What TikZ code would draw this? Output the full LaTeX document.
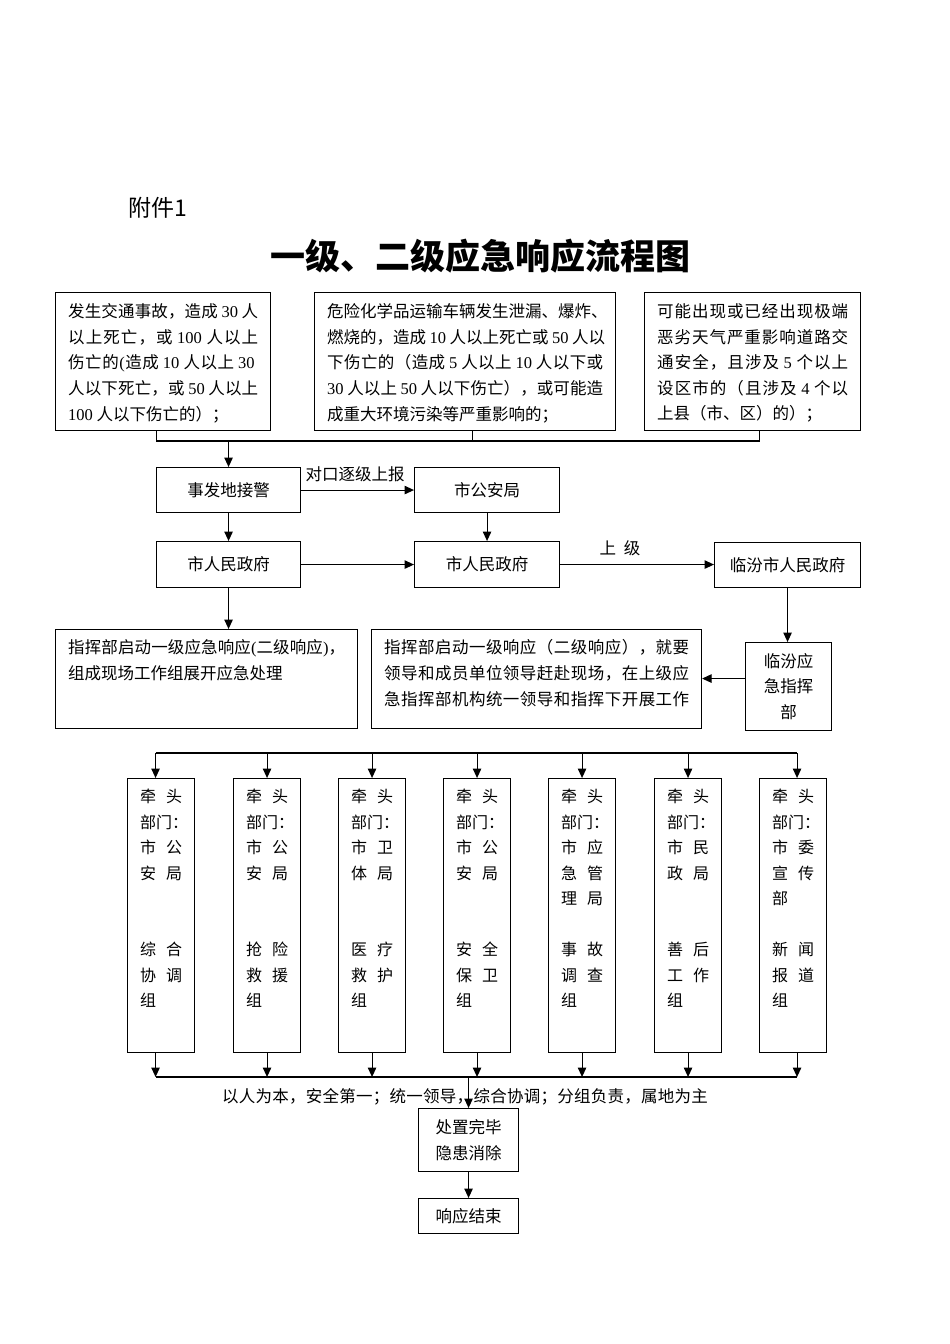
\documentclass[tikz,border=0pt]{standalone}
\usepackage{fontspec}
\setmainfont{Noto Sans CJK SC}
\newfontfamily\lat{Liberation Serif}
\usetikzlibrary{arrows.meta}
% spread a line of units evenly to a given width
\def\spreadfirst#1{{#1}\spreadrest}
\def\spreadrest#1{\ifx\relax#1\else\hfill{#1}\expandafter\spreadrest\fi}
\newcommand{\jl}[2]{\hbox to #1{\spreadfirst#2\relax}}
\newcommand{\nm}[1]{\hspace{3.5pt}{\lat #1}\hspace{3.5pt}}
\newcommand{\cg}{\hspace{10pt}}
\newcommand{\ctext}[6]{牵\cg 头\\部门：\\#1\\#2\\#3\\\mbox{}\\#4\\#5\\#6}
\begin{document}
\begin{tikzpicture}[x=1pt,y=-1pt,
  box/.style={draw, line width=1.1pt, inner sep=0pt, anchor=north west},
  cbox/.style={draw, line width=1.1pt, inner sep=0pt, anchor=north west, align=center, font=\fontsize{16.5}{25.6}\selectfont},
  txt/.style={inner sep=0pt, anchor=north west, align=left, font=\fontsize{16.5}{25.6}\selectfont},
  ctx/.style={inner sep=0pt, anchor=north west, align=left, font=\fontsize{16}{25.5}\selectfont},
  lbl/.style={inner sep=0pt, font=\fontsize{16.5}{20}\selectfont},
  arr/.style={line width=1.1pt, -{Triangle[length=9.5pt,width=8.5pt]}},
  ln/.style={line width=1.1pt}]
\fill[white] (0,0) rectangle (950,1344);
\useasboundingbox (0,0) rectangle (950,1344);

% header
\node[anchor=west, inner sep=0pt, font=\fontsize{23}{23}\selectfont] (fj) at (128,208) {附件1};
\node[inner sep=0pt, font=\fontsize{35}{35}\selectfont\bfseries] (title) at (480,256) {一级、二级应急响应流程图};

% top boxes
\node[box, minimum width=215, minimum height=138] (A) at (55,292) {};
\node[box, minimum width=301, minimum height=138] (B) at (314,292) {};
\node[box, minimum width=216, minimum height=138] (C) at (644,292) {};
\node[txt] (tA) at (68,303.5) {%
\jl{190pt}{发生交通事故，造成{\nm{30}}人}\\
\jl{190pt}{以上死亡，或{\nm{100}}人以上}\\
\jl{190pt}{伤亡的{\lat (}造成{\nm{10}}人以上{\nm{30}}}\\
\jl{190pt}{人以下死亡，或{\nm{50}}人以上}\\
{\lat 100} 人以下伤亡的）；};
\node[txt] (tB) at (327,303.5) {%
\jl{276pt}{危险化学品运输车辆发生泄漏、爆炸、}\\
\jl{276pt}{燃烧的，造成{\nm{10}}人以上死亡或{\nm{50}}人以}\\
\jl{276pt}{下伤亡的（造成{\nm{5}}人以上{\nm{10}}人以下或}\\
\jl{276pt}{{{\lat 30}\hspace{3.5pt}}人以上{\nm{50}}人以下伤亡），或可能造}\\
成重大环境污染等严重影响的；};
\node[txt] (tC) at (657,303.5) {%
\jl{191pt}{可能出现或已经出现极端}\\
\jl{191pt}{恶劣天气严重影响道路交}\\
\jl{191pt}{通安全，且涉及{\nm{5}}个以上}\\
\jl{191pt}{设区市的（且涉及{\nm{4}}个以}\\
上县（市、区）的）；};

% connectors from top boxes
\coordinate (b1) at (0,441);
\draw[ln] ([xshift=-7pt]A.south) |- ([xshift=7pt]C.south |- b1) -- ([xshift=7pt]C.south);
\draw[ln] ([xshift=7pt]B.south) -- ([xshift=7pt]B.south |- b1);

% rows 2 and 3
\node[cbox, minimum width=144, minimum height=45] (J) at (156,467) {事发地接警};
\node[cbox, minimum width=145, minimum height=45] (G) at (414,467) {市公安局};
\node[cbox, minimum width=144, minimum height=46] (P1) at (156,541) {市人民政府};
\node[cbox, minimum width=145, minimum height=46] (P2) at (414,541) {市人民政府};
\node[cbox, minimum width=146, minimum height=45] (L) at (714,542) {临汾市人民政府};

\draw[arr] (J.north |- b1) -- (J.north);
\draw[arr] (J.east) -- (G.west);
\node[lbl] (lb1) at (355,474) {对口逐级上报};
\draw[arr] (G.south) -- (P2.north);
\draw[arr] (J.south) -- (P1.north);
\draw[arr] (P1.east) -- (P2.west);
\draw[arr] (P2.east) -- (P2.east -| L.west);
\node[lbl] (lb2) at (620,548) {上\hspace{8pt}级};

% row 4
\node[box, minimum width=302, minimum height=99] (K1) at (55,629) {};
\node[box, minimum width=330, minimum height=99] (K2) at (371,629) {};
\node[cbox, minimum width=86, minimum height=88] (Lz) at (745,642) {临汾应\\急指挥\\部};
\node[txt] (tK1) at (68,639.5) {%
\jl{277pt}{指挥部启动一级应急响应{\lat (}二级响应{\lat )}，}\\
组成现场工作组展开应急处理};
\node[txt] (tK2) at (384,639.5) {%
\jl{305pt}{指挥部启动一级响应（二级响应），就要}\\
\jl{305pt}{领导和成员单位领导赶赴现场，在上级应}\\
\jl{305pt}{急指挥部机构统一领导和指挥下开展工作}};

\draw[arr] (P1.south) -- (P1.south |- K1.north);
\draw[arr] (L.south) -- (L.south |- Lz.north);
\draw[arr] ([yshift=8pt]Lz.west) -- ([yshift=8pt]Lz.west -| K2.east);

% columns
\foreach \i/\x in {1/127,2/233,3/338,4/443,5/548,6/654,7/759}
  \node[box, minimum width=67, minimum height=274] (c\i) at (\x,778) {};
\node[ctx] (ct1) at (140,789) {\ctext{市\cg 公}{安\cg 局}{\mbox{}}{综\cg 合}{协\cg 调}{组}};
\node[ctx] (ct2) at (246,789) {\ctext{市\cg 公}{安\cg 局}{\mbox{}}{抢\cg 险}{救\cg 援}{组}};
\node[ctx] (ct3) at (351,789) {\ctext{市\cg 卫}{体\cg 局}{\mbox{}}{医\cg 疗}{救\cg 护}{组}};
\node[ctx] (ct4) at (456,789) {\ctext{市\cg 公}{安\cg 局}{\mbox{}}{安\cg 全}{保\cg 卫}{组}};
\node[ctx] (ct5) at (561,789) {\ctext{市\cg 应}{急\cg 管}{理\cg 局}{事\cg 故}{调\cg 查}{组}};
\node[ctx] (ct6) at (667,789) {\ctext{市\cg 民}{政\cg 局}{\mbox{}}{善\cg 后}{工\cg 作}{组}};
\node[ctx] (ct7) at (772,789) {\ctext{市\cg 委}{宣\cg 传}{部}{新\cg 闻}{报\cg 道}{组}};

\coordinate (a1) at ([xshift=-5.5pt]c1.north);
\coordinate (e1) at ([xshift=-5.5pt]c1.south);
\foreach \i in {2,...,6} {
  \coordinate (a\i) at (c\i.north);
  \coordinate (e\i) at (c\i.south);
}
\coordinate (a7) at ([xshift=4pt]c7.north);
\coordinate (e7) at ([xshift=4pt]c7.south);
\coordinate (bt) at (0,753);
\coordinate (bb) at (0,1077);
\draw[ln] (a1 |- bt) -- (a7 |- bt);
\draw[ln] (e1 |- bb) -- (e7 |- bb);
\foreach \i in {1,...,7} {
  \draw[arr] (a\i |- bt) -- (a\i);
  \draw[arr] (e\i) -- (e\i |- bb);
}

% bottom
\node[lbl] (motto) at (465,1097) {\jl{486pt}{以人为本，安全第一；统一领导，综合协调；分组负责，属地为主}};
\node[cbox, minimum width=100, minimum height=63] (E1) at (418,1108) {处置完毕\\隐患消除};
\node[cbox, minimum width=100, minimum height=35] (E2) at (418,1198) {响应结束};
\draw[arr] (E1.north |- bb) -- (E1.north);
\draw[arr] (E1.south) -- (E2.north);
\end{tikzpicture}
\end{document}
